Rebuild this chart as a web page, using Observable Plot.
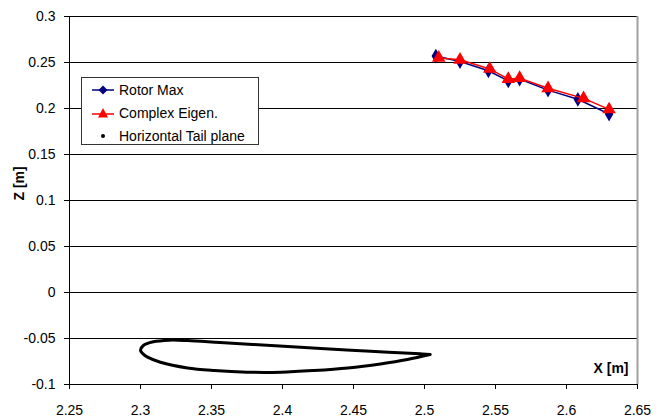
<!DOCTYPE html>
<html>
<head>
<meta charset="utf-8">
<script src="https://cdn.jsdelivr.net/npm/d3@7"></script>
<script src="https://cdn.jsdelivr.net/npm/@observablehq/plot@0.6"></script>
<style>
  html, body { margin: 0; padding: 0; background: #fff; }
  #wrap { position: relative; width: 669px; height: 420px; font-family: "Liberation Sans", Arial, sans-serif; }
  #legend {
    position: absolute; left: 81px; top: 77px; width: 178px; height: 68px;
    background: #fff; border: 1px solid #333; box-sizing: border-box;
    font-size: 14px; color: #000;
  }
  #legend .row { position: absolute; left: 10px; height: 16px; display: flex; align-items: center; }
  #legend .row span { margin-left: 5px; }
</style>
</head>
<body>
<div id="wrap"></div>
<script>
// Rotor maximum position and complex eigenvalue prediction (X, Z in metres)
const rotorX = [2.508, 2.525, 2.545, 2.559, 2.567, 2.587, 2.608, 2.630];
const rotorZ = [0.257, 0.251, 0.241, 0.230, 0.232, 0.220, 0.210, 0.194];
const eigenX = [2.510, 2.525, 2.546, 2.559, 2.567, 2.587, 2.612, 2.630];
const eigenZ = [0.255, 0.253, 0.243, 0.232, 0.233, 0.222, 0.211, 0.199];

// Horizontal tail plane section outline (trailing edge -> upper -> leading edge -> lower -> trailing edge)
const tailX = [2.504, 2.497, 2.462, 2.427, 2.392, 2.356, 2.333, 2.320, 2.309, 2.302, 2.300,
               2.302, 2.305, 2.314, 2.333, 2.352, 2.375, 2.399, 2.422, 2.446, 2.469, 2.488, 2.504];
const tailZ = [-0.0674, -0.0667, -0.0638, -0.0609, -0.0576, -0.0543, -0.0522, -0.0518, -0.0536, -0.0576, -0.0630,
               -0.0670, -0.0703, -0.0758, -0.0820, -0.0848, -0.0866, -0.0866, -0.0848, -0.0820, -0.0776, -0.0728, -0.0674];

const xTicks = [2.25, 2.3, 2.35, 2.4, 2.45, 2.5, 2.55, 2.6, 2.65];
const yTicks = [-0.1, -0.05, 0, 0.05, 0.1, 0.15, 0.2, 0.25, 0.3];

const rotor = rotorX.map((x, i) => ({x, z: rotorZ[i]}));
const eigen = eigenX.map((x, i) => ({x, z: eigenZ[i]}));
const tail = tailX.map((x, i) => ({x, z: tailZ[i]}));

const fmt = d => String(+d.toFixed(2));

const chart = Plot.plot({
  width: 669,
  height: 420,
  marginLeft: 69,
  marginRight: 32,
  marginTop: 16,
  marginBottom: 36,
  style: {fontFamily: "Liberation Sans, Arial, sans-serif", fontSize: "14px", color: "#000", background: "#fff"},
  x: {domain: [2.25, 2.65]},
  y: {domain: [-0.1, 0.3]},
  marks: [
    Plot.ruleY(yTicks, {stroke: "#000", strokeWidth: 1}),
    Plot.ruleX([2.65], {stroke: "#a0a0a0", strokeWidth: 2}),
    Plot.ruleX([2.25], {stroke: "#000", strokeWidth: 1}),
    Plot.axisX({ticks: xTicks, tickFormat: fmt, tickSize: 5, tickPadding: 16, label: null, stroke: "#000", fontSize: 14}),
    Plot.axisY({ticks: yTicks, tickFormat: fmt, tickSize: 5, tickPadding: 9, label: null, stroke: "#000", fontSize: 14}),
    Plot.line(tail, {x: "x", y: "z", stroke: "#000", strokeWidth: 3, curve: "catmull-rom"}),
    Plot.line(rotor, {x: "x", y: "z", stroke: "#000080", strokeWidth: 1.5}),
    Plot.dot(rotor, {x: "x", y: "z", symbol: "diamond", fill: "#000080", r: 4.5}),
    Plot.line(eigen, {x: "x", y: "z", stroke: "#ff0000", strokeWidth: 1.5}),
    Plot.dot(eigen, {x: "x", y: "z", symbol: "triangle", fill: "#ff0000", r: 5}),
    Plot.text(["X [m]"], {frameAnchor: "bottom-right", dx: -9, dy: -12, fontWeight: "bold", fontSize: 14, fill: "#000"}),
    Plot.text(["Z [m]"], {frameAnchor: "left", dx: -50, rotate: -90, fontWeight: "bold", fontSize: 14, fill: "#000"})
  ]
});

const wrap = document.getElementById("wrap");
wrap.appendChild(chart);

// Legend box
const legend = document.createElement("div");
legend.id = "legend";
legend.innerHTML = `
  <div class="row" style="top:4px"><svg width="22" height="12"><line x1="0" y1="6" x2="22" y2="6" stroke="#000080" stroke-width="1.5"/><path d="M11 1.5 L15.5 6 L11 10.5 L6.5 6Z" fill="#000080"/></svg><span>Rotor Max</span></div>
  <div class="row" style="top:27px"><svg width="22" height="12"><line x1="0" y1="7" x2="22" y2="7" stroke="#ff0000" stroke-width="1.5"/><path d="M11 1 L16 10.5 L6 10.5Z" fill="#ff0000"/></svg><span>Complex Eigen.</span></div>
  <div class="row" style="top:50px"><svg width="22" height="12"><circle cx="11" cy="6" r="2" fill="#000"/></svg><span>Horizontal Tail plane</span></div>`;
wrap.appendChild(legend);
</script>
</body>
</html>
